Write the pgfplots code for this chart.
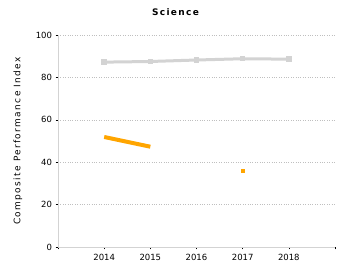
\documentclass[border=0pt]{standalone}
\usepackage{pgfplots}
\pgfplotsset{compat=1.18}
\usepackage{fontspec}
\setmainfont{DejaVu Sans}
\newfontfamily\spfont[LetterSpace=15]{DejaVu Sans}
\definecolor{orng}{RGB}{255,165,0}
\definecolor{lgray}{RGB}{211,211,211}
\begin{document}
\begin{tikzpicture}
\useasboundingbox (0pt,0pt) rectangle (350pt,280pt);
\begin{axis}[
  at={(58pt,33pt)}, anchor=south west,
  scale only axis, width=277pt, height=212pt,
  xmin=2013, xmax=2019, ymin=0, ymax=100,
  xtick={2013,2014,2015,2016,2017,2018,2019},
  xticklabels={,2014,2015,2016,2017,2018,},
  ytick={0,20,40,60,80,100},
  axis lines=left,
  axis line style={lgray, -},
  ymajorgrids, grid style={gray!50, dotted},
  tick style={black, thin},
  major tick length=2.5pt,
  tick align=outside,
  every tick label/.style={font=\fontsize{8.5}{10}\selectfont},
  xticklabel style={yshift=-1pt},
  /pgf/number format/assume math mode=true,
  /pgf/number format/1000 sep={},
  ylabel={\spfont Composite Performance Index},
  ylabel style={font=\fontsize{9}{10}\selectfont, at={(axis description cs:0,0.5)}, anchor=center, yshift=40pt},
  title={\spfont\bfseries Science},
  title style={font=\fontsize{9}{10}\selectfont, at={(axis description cs:0.5,1)}, anchor=center, yshift=17pt, xshift=-21pt},
  clip=false,
]
\addplot[lgray, line width=3pt, mark=square*, mark size=1.2pt, mark options={lgray}] coordinates {
  (2014,87.2) (2015,87.5) (2016,88.2) (2017,88.8) (2018,88.6)
};
\addplot[orng, line width=4pt] coordinates {
  (2014,51.9) (2015,47.3)
};
\addplot[only marks, orng, mark=square*, mark size=1.5pt] coordinates {
  (2017,35.8)
};
\end{axis}
\end{tikzpicture}
\end{document}
